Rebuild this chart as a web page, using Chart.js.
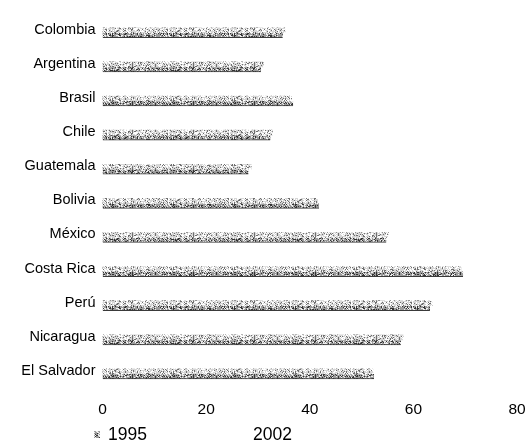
<!DOCTYPE html>
<html>
<head>
<meta charset="utf-8">
<script src="https://cdn.jsdelivr.net/npm/chart.js@4/dist/chart.umd.min.js"></script>
<style>
  html, body { margin: 0; padding: 0; background: #fff; overflow: hidden; width: 528px; height: 447px; }
  #wrap { position: relative; width: 528px; height: 447px; }
  #chart { display: block; }
  .key { position: absolute; top: 424px; font: 17.5px "Liberation Sans", Arial, sans-serif; color: #000; line-height: 20px; }
  .swatch { position: absolute; top: 431px; width: 6px; height: 7px; }
</style>
</head>
<body>
<div id="wrap">
  <canvas id="chart" width="525" height="447"></canvas>
  <canvas class="swatch" id="sw1995" width="6" height="7" style="left:94px"></canvas>
  <span class="key" id="lab1995" style="left:108px"></span>
  <span class="swatch" style="left:241px;background:#fff"></span>
  <span class="key" id="lab2002" style="left:253px"></span>
</div>
<script>
// Countries, top to bottom
const categories = ['Colombia', 'Argentina', 'Brasil', 'Chile', 'Guatemala', 'Bolivia',
                    'México', 'Costa Rica', 'Perú', 'Nicaragua', 'El Salvador'];
const seriesNames = ['1995', '2002'];
const values1995 = [35.2, 31, 36.5, 32.8, 28.7, 41.5, 55.2, 69.2, 63.6, 58, 52.2];
const values2002 = [34.8, 30.6, 36.8, 32.4, 28.2, 41.8, 54.8, 69.6, 63.2, 57.6, 52.4];
const xTicks = [0, 20, 40, 60, 80];

// Grainy print-like fill built from a fixed hash texture
function grainPattern(base, dark, light, darkRate, lightRate) {
  const c = document.createElement('canvas');
  c.width = 61; c.height = 13;
  const g = c.getContext('2d');
  g.fillStyle = base; g.fillRect(0, 0, c.width, c.height);
  for (let y = 0; y < c.height; y++) {
    for (let x = 0; x < c.width; x++) {
      const h = (((x * 2654435761) ^ (y * 40503 + 12345)) >>> 0) % 1000 / 1000;
      if (h < darkRate) { g.fillStyle = dark; g.fillRect(x, y, 1, 1); }
      else if (h > 1 - lightRate) { g.fillStyle = light; g.fillRect(x, y, 1, 1); }
    }
  }
  return c;
}

const tex1995 = grainPattern('#d6d6d6', '#6e6e6e', '#ffffff', 0.2, 0.3);
const tex2002 = grainPattern('#9c9c9c', '#333333', '#eeeeee', 0.24, 0.22);
const ctx = document.getElementById('chart').getContext('2d');
const fill1995 = ctx.createPattern(tex1995, 'repeat');
const fill2002 = ctx.createPattern(tex2002, 'repeat');

// legend
document.getElementById('lab1995').textContent = seriesNames[0];
document.getElementById('lab2002').textContent = seriesNames[1];
const sw = document.getElementById('sw1995').getContext('2d');
sw.fillStyle = sw.createPattern(tex2002, 'repeat');
sw.fillRect(0, 0, 6, 7);

new Chart(ctx, {
  type: 'bar',
  data: {
    labels: categories,
    datasets: [
      { label: seriesNames[0], data: values1995, backgroundColor: fill1995, borderWidth: 0, barThickness: 5 },
      { label: seriesNames[1], data: values2002, backgroundColor: fill2002, barThickness: 5,
        borderColor: '#3a3a3a', borderWidth: { top: 0, left: 0, right: 0, bottom: 1 } }
    ]
  },
  options: {
    indexAxis: 'y',
    responsive: false,
    animation: false,
    devicePixelRatio: 1,
    layout: { padding: { top: 10, left: 0, right: 0, bottom: 0 } },
    plugins: { legend: { display: false }, tooltip: { enabled: false } },
    scales: {
      x: {
        min: 0, max: 80,
        grid: { display: false, drawTicks: false },
        border: { display: false },
        afterBuildTicks: s => { s.ticks = xTicks.map(v => ({ value: v })); },
        afterFit: s => { s.height = 56; s.paddingLeft = 0; s.paddingRight = 8; },
        ticks: {
          color: '#000', padding: 9, maxRotation: 0, autoSkip: false,
          font: { family: '"Liberation Sans", Arial, sans-serif', size: 15.5 }
        }
      },
      y: {
        grid: { display: false, drawTicks: false },
        border: { display: false },
        afterFit: s => { s.width = 102.5; },
        ticks: {
          color: '#000', padding: 7, labelOffset: -3,
          font: { family: '"Liberation Sans", Arial, sans-serif', size: 14.5 }
        }
      }
    }
  }
});
</script>
</body>
</html>
